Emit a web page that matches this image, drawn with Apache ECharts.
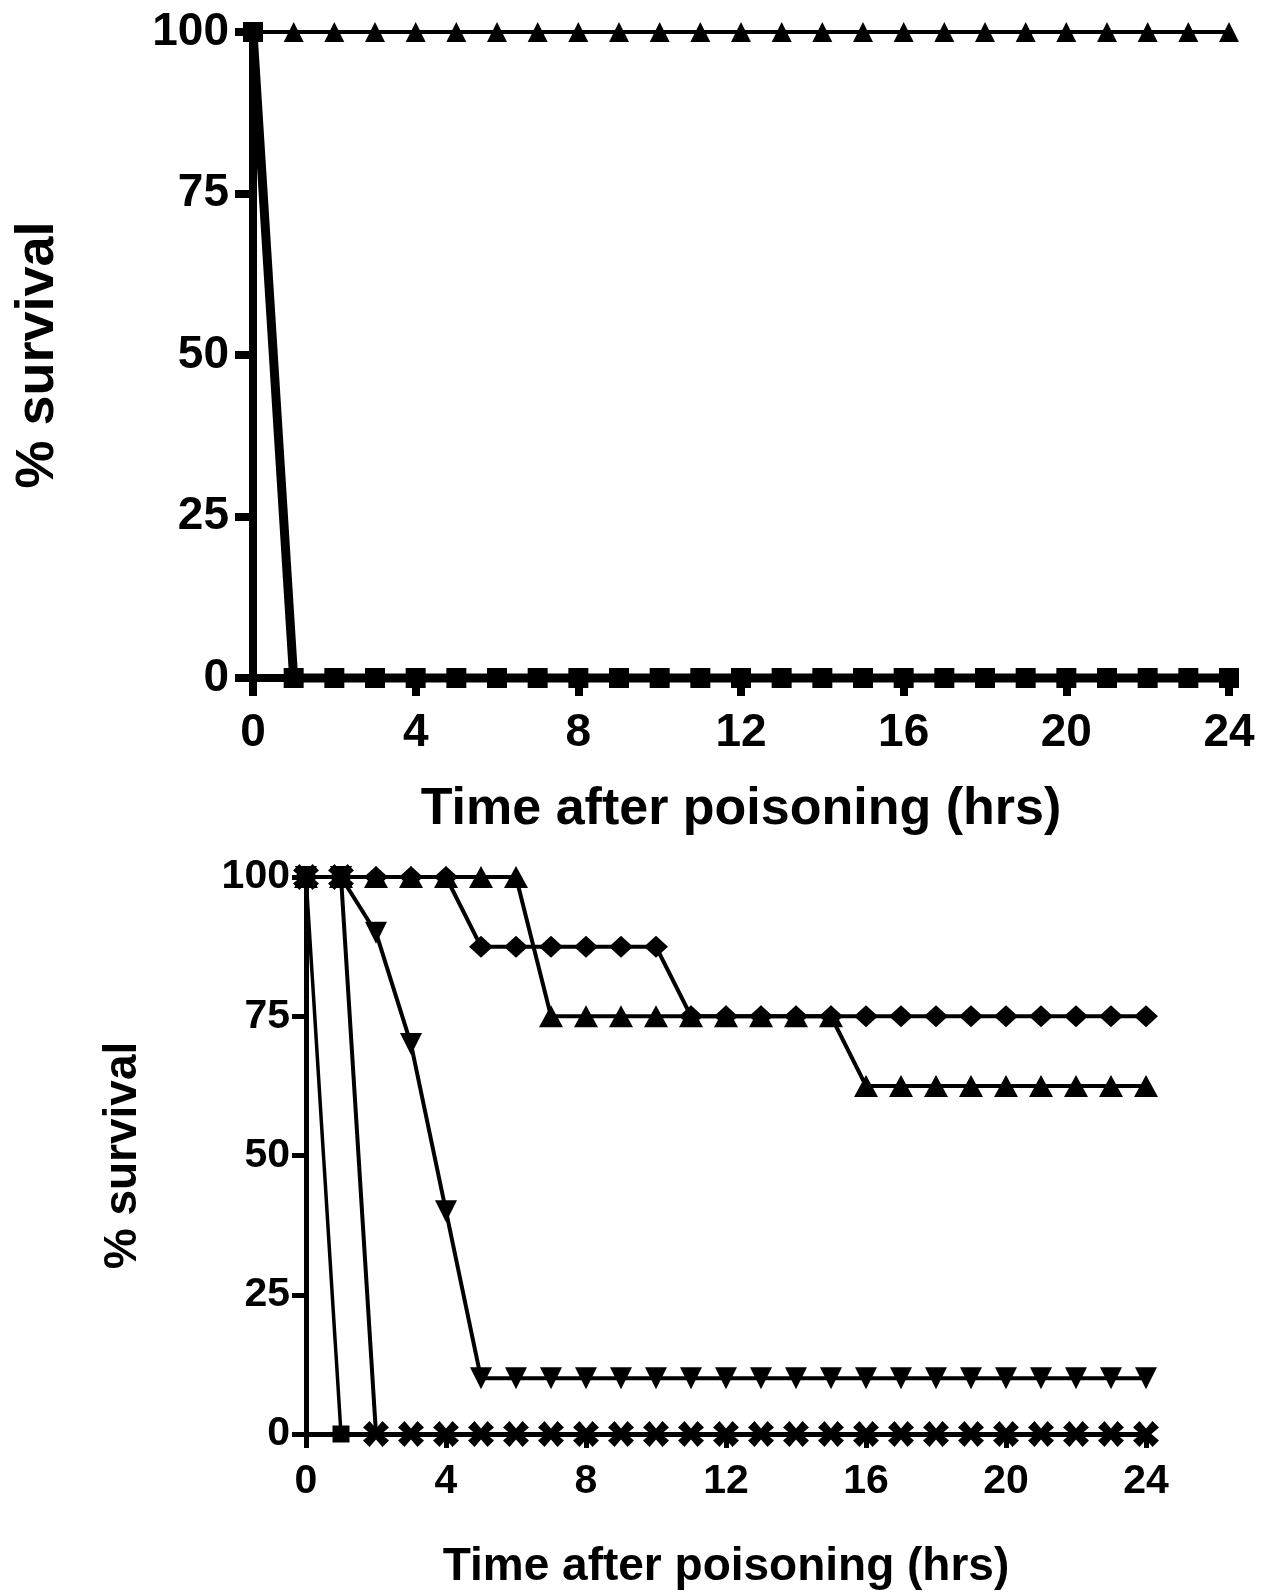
<!DOCTYPE html>
<html>
<head>
<meta charset="utf-8">
<script src="https://cdn.jsdelivr.net/npm/echarts@6/dist/echarts.min.js"></script>
<style>
html,body{margin:0;padding:0;background:#fff;}
#chart{width:1286px;height:1592px;}
</style>
</head>
<body>
<div id="chart"></div>
<script>
// ---- Data ----
const hours = [0,1,2,3,4,5,6,7,8,9,10,11,12,13,14,15,16,17,18,19,20,21,22,23,24];
const xTicks = [0,4,8,12,16,20,24];
const yTicks = [0,25,50,75,100];

// Top panel
const topTriangle = [100,100,100,100,100,100,100,100,100,100,100,100,100,100,100,100,100,100,100,100,100,100,100,100,100];
const topSquare   = [100,0,0,0,0,0,0,0,0,0,0,0,0,0,0,0,0,0,0,0,0,0,0,0,0];

// Bottom panel
const botTriangle    = [100,100,100,100,100,100,100,75,75,75,75,75,75,75,75,75,62.5,62.5,62.5,62.5,62.5,62.5,62.5,62.5,62.5];
const botDiamond     = [100,100,100,100,100,87.5,87.5,87.5,87.5,87.5,87.5,75,75,75,75,75,75,75,75,75,75,75,75,75,75];
const botInvTriangle = [100,100,90,70,40,10,10,10,10,10,10,10,10,10,10,10,10,10,10,10,10,10,10,10,10];
const botSquare      = [100,0];
const botCross       = [100,100,0,0,0,0,0,0,0,0,0,0,0,0,0,0,0,0,0,0,0,0,0,0,0];

const xTitle = 'Time after poisoning (hrs)';
const yTitle = '% survival';

const pair = arr => arr.map((v,i) => [hours[i], v]);
const FONT = '"Liberation Sans", Arial, sans-serif';
const crossPath = 'path://M0,3 L3,0 L6,3.5 L9,0 L12,3 L8.5,6 L12,9 L9,12 L6,8.5 L3,12 L0,9 L3.5,6 Z';

function xAxisCfg(gi, lw, fs, margin, tickLen, nameFs, nameGap){
  return {
    gridIndex: gi, type:'value', min:0, max:24, interval:4,
    axisLine:{show:true, onZero:false, lineStyle:{color:'#000', width:lw}},
    axisTick:{show:true, inside:false, length:tickLen, lineStyle:{color:'#000', width:lw}},
    axisLabel:{color:'#000', fontFamily:FONT, fontWeight:'bold', fontSize:fs, margin:margin},
    splitLine:{show:false},
    name:xTitle, nameLocation:'middle', nameGap:nameGap,
    nameTextStyle:{color:'#000', fontFamily:FONT, fontWeight:'bold', fontSize:nameFs}
  };
}
function yAxisCfg(gi, lw, fs, margin, tickLen, nameFs, nameGap){
  return {
    gridIndex: gi, type:'value', min:0, max:100, interval:25,
    axisLine:{show:true, onZero:false, lineStyle:{color:'#000', width:lw}},
    axisTick:{show:true, inside:false, length:tickLen, lineStyle:{color:'#000', width:lw}},
    axisLabel:{color:'#000', fontFamily:FONT, fontWeight:'bold', fontSize:fs, margin:margin},
    splitLine:{show:false},
    name:yTitle, nameLocation:'middle', nameGap:nameGap, nameRotate:90,
    nameTextStyle:{color:'#000', fontFamily:FONT, fontWeight:'bold', fontSize:nameFs}
  };
}
function line(xi, data, symbol, size, lw, z){
  return {
    type:'line', xAxisIndex:xi, yAxisIndex:xi, data:pair(data),
    symbol:symbol, symbolSize:size, showAllSymbol:true, clip:false, z:z,
    lineStyle:{color:'#000', width:lw}, itemStyle:{color:'#000', borderWidth:0},
    animation:false, emphasis:{disabled:true}
  };
}

const chart = echarts.init(document.getElementById('chart'), null, {renderer:'canvas'});
chart.setOption({
  backgroundColor:'#fff',
  animation:false,
  grid:[
    {left:253, top:32, width:976, height:646, outerBoundsMode:'none', containLabel:false},
    {left:306, top:877, width:840, height:557, outerBoundsMode:'none', containLabel:false}
  ],
  xAxis:[
    xAxisCfg(0, 8, 46, 32, 18, 52, 106),
    xAxisCfg(1, 5, 41, 27, 14, 46, 110)
  ],
  yAxis:[
    yAxisCfg(0, 8, 46, 24, 18, 54, 188),
    yAxisCfg(1, 5, 41, 16, 14, 46, 160)
  ],
  series:[
    line(0, topTriangle, 'triangle', [20,20], 4, 2),
    line(0, topSquare, 'rect', [20,20], 9, 3),
    line(1, botTriangle, 'triangle', [24,22], 4, 2),
    line(1, botDiamond, 'diamond', [24,22], 4, 3),
    line(1, botInvTriangle, 'path://M0,0 L10,0 L5,10 Z', [22,22], 4, 4),
    line(1, botSquare, 'rect', [17,17], 3.5, 5),
    line(1, botCross, crossPath, [26,26], 4, 6)
  ]
});
</script>
</body>
</html>
